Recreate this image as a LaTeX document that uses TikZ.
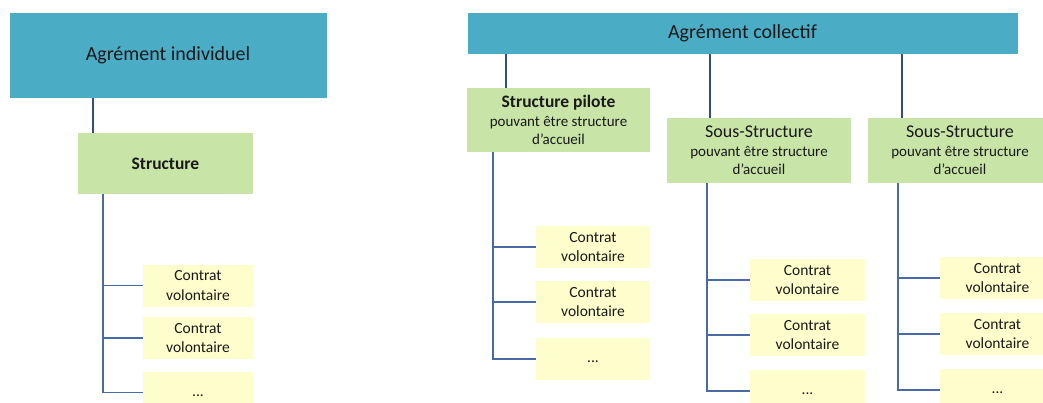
\documentclass[tikz,border=0pt]{standalone}
\usepackage{fontspec}
\setmainfont{Carlito}

\definecolor{agrementbleu}{HTML}{4BACC6}
\definecolor{structvert}{HTML}{C8E4A6}
\definecolor{contratjaune}{HTML}{FEFECC}
\definecolor{lienfonce}{HTML}{2F4F86}
\definecolor{lienbleu}{HTML}{4A6AA5}

\tikzset{
    agrement/.style={fill=agrementbleu, draw=white, line width=0.6pt, inner sep=0pt,
        font=\fontsize{20}{24}\selectfont, text=black!90},
    structbox/.style={fill=structvert, inner sep=0pt, align=center,
        font=\fontsize{15}{18.5}\selectfont, text=black!90},
    contrat/.style={fill=contratjaune, inner sep=0pt, align=center,
        minimum width=115pt, minimum height=42pt,
        font=\fontsize{15.5}{19.5}\selectfont, text=black!90},
    lien/.style={draw=lienfonce, line width=2pt},
    branche/.style={draw=lienbleu, line width=1.6pt}
}

\newcommand{\sousstruct}{{\fontsize{18}{20}\selectfont Sous-Structure}\\ pouvant être structure\\ d’accueil}

\begin{document}
\begin{tikzpicture}[x=1pt, y=-1pt]
    \useasboundingbox (0,0) rectangle (1043,403);
    \clip (0,0) rectangle (1043,403);

    % agrement individuel
    \node[agrement, minimum width=318pt, minimum height=86pt] (indiv) at (168,55) {Agrément individuel};
    \node[structbox, minimum width=175pt, minimum height=61pt, font=\fontsize{17.5}{20}\selectfont\bfseries] (struct) at (165.5,163.5) {Structure};

    \node[contrat, minimum width=110pt] (lc1) at (198,285.5) {Contrat\\ volontaire};
    \node[contrat, minimum width=110pt] (lc2) at (198,338) {Contrat\\ volontaire};
    \node[contrat, minimum width=110pt] (lc3) at (198,392.5) {\strut...};

    \draw[lien] ([xshift=15pt]struct.north west) -- ([xshift=15pt]struct.north west |- indiv.south);
    \draw[branche] ([xshift=25pt]struct.south west) coordinate (lt) |- (lc3.west);
    \draw[branche] (lc1.west) -- (lc1.west -| lt);
    \draw[branche] (lc2.west) -- (lc2.west -| lt);

    % agrement collectif
    \node[agrement, minimum width=551pt, minimum height=42pt] (coll) at (742.5,33) {Agrément collectif};

    \node[structbox, minimum width=183pt, minimum height=64pt] (pilote) at (558.5,120)
        {{\fontsize{17.5}{20}\selectfont\bfseries Structure pilote}\\ pouvant être structure\\ d’accueil};
    \node[structbox, minimum width=184pt, minimum height=65pt] (sous1) at (759,150.5) {\sousstruct};
    \node[structbox, minimum width=184pt, minimum height=65pt] (sous2) at (960,150.5) {\sousstruct};

    \node[contrat, minimum width=114pt] (pc1) at (593,247) {Contrat\\ volontaire};
    \node[contrat, minimum width=114pt] (pc2) at (593,302) {Contrat\\ volontaire};
    \node[contrat, minimum width=114pt] (pc3) at (593,359) {\strut...};

    \node[contrat] (sa1) at (807.5,280) {Contrat\\ volontaire};
    \node[contrat] (sa2) at (807.5,335) {Contrat\\ volontaire};
    \node[contrat] (sa3) at (807.5,391) {\strut...};

    \node[contrat] (sb1) at (997.5,278) {Contrat\\ volontaire};
    \node[contrat] (sb2) at (997.5,334) {Contrat\\ volontaire};
    \node[contrat] (sb3) at (997.5,390) {\strut...};

    \draw[lien] ([xshift=39pt]pilote.north west) -- ([xshift=39pt]pilote.north west |- coll.south);
    \draw[lien] ([xshift=43pt]sous1.north west) -- ([xshift=43pt]sous1.north west |- coll.south);
    \draw[lien] ([xshift=34pt]sous2.north west) -- ([xshift=34pt]sous2.north west |- coll.south);

    \draw[branche] ([xshift=26pt]pilote.south west) coordinate (pt) |- (pc3.west);
    \draw[branche] (pc1.west) -- (pc1.west -| pt);
    \draw[branche] (pc2.west) -- (pc2.west -| pt);

    \draw[branche] ([xshift=40pt]sous1.south west) coordinate (at) |- (sa3.west);
    \draw[branche] (sa1.west) -- (sa1.west -| at);
    \draw[branche] (sa2.west) -- (sa2.west -| at);

    \draw[branche] ([xshift=30pt]sous2.south west) coordinate (bt) |- (sb3.west);
    \draw[branche] (sb1.west) -- (sb1.west -| bt);
    \draw[branche] (sb2.west) -- (sb2.west -| bt);
\end{tikzpicture}
\end{document}
